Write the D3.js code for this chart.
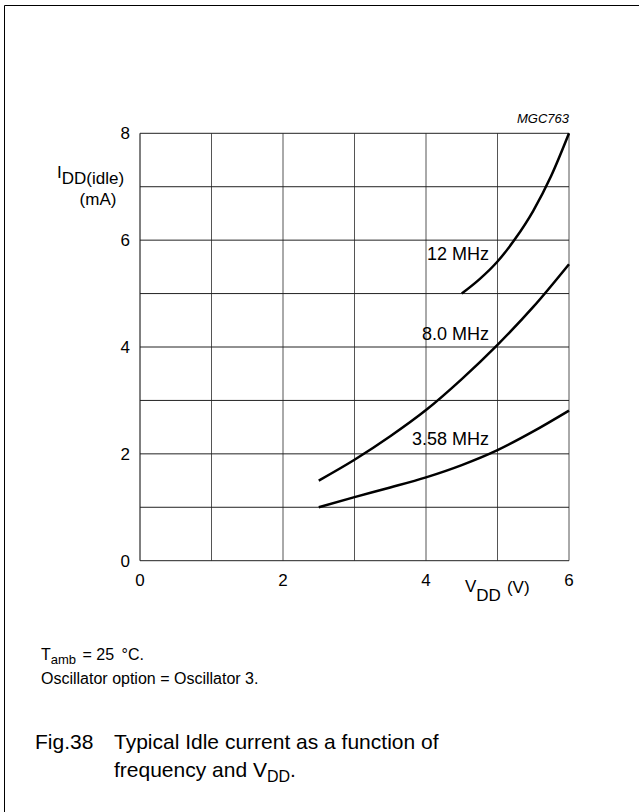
<!DOCTYPE html>
<html>
<head>
<meta charset="utf-8">
<script src="https://cdn.jsdelivr.net/npm/d3@7"></script>
<style>
  body { margin: 0; background: #fff; }
  svg { display: block; font-family: "Liberation Sans", Arial, sans-serif; }
</style>
</head>
<body>
<svg width="639" height="812"></svg>
<script>
// Idle current vs supply voltage, three oscillator frequencies

var vdd = [2.5, 3, 3.5, 4, 4.5, 5, 5.5, 6];
var idd_8 = [1.5, 1.89, 2.33, 2.82, 3.4, 4.04, 4.75, 5.55];
var idd_358 = [1.0, 1.19, 1.37, 1.56, 1.79, 2.07, 2.42, 2.81];
var vdd_12 = [4.5, 4.75, 5, 5.25, 5.5, 5.75, 6];
var idd_12 = [5.0, 5.27, 5.6, 6.03, 6.55, 7.2, 8.0];

var x_ticks = [0, 2, 4, 6];
var y_ticks = [0, 2, 4, 6, 8];

var curve_labels = [
	{text: "12 MHz", v: 4.88, i: 5.63},
	{text: "8.0 MHz", v: 4.88, i: 4.13},
	{text: "3.58 MHz", v: 4.88, i: 2.17}
];

var svg = d3.select("svg");

var x = d3.scaleLinear().domain([0, 6]).range([140, 569]);
var y = d3.scaleLinear().domain([0, 8]).range([560.7, 133.3]);

// outer frame (top and left edges only visible)
svg.append("line").attr("x1", 4.5).attr("y1", 5.5).attr("x2", 639).attr("y2", 5.5)
	.attr("stroke", "#000").attr("stroke-width", 1);
svg.append("line").attr("x1", 4.5).attr("y1", 5.5).attr("x2", 4.5).attr("y2", 812)
	.attr("stroke", "#000").attr("stroke-width", 1);

// grid
var grid = svg.append("g").attr("class", "grid");
grid.selectAll("line.v")
	.data(d3.range(0, 7))
	.enter().append("line")
	.attr("class", "v")
	.attr("x1", d => x(d)).attr("x2", d => x(d))
	.attr("y1", y(0)).attr("y2", y(8))
	.attr("stroke", d => d == 0 ? "#000" : "#555")
	.attr("stroke-width", 1);
grid.selectAll("line.h")
	.data(d3.range(0, 9))
	.enter().append("line")
	.attr("class", "h")
	.attr("x1", x(0)).attr("x2", x(6))
	.attr("y1", d => y(d)).attr("y2", d => y(d))
	.attr("stroke", "#222")
	.attr("stroke-width", 1);

// tick labels
svg.append("g").selectAll("text")
	.data(x_ticks)
	.enter().append("text")
	.attr("x", d => x(d))
	.attr("y", 586)
	.attr("text-anchor", "middle")
	.attr("font-size", 17)
	.text(d => d);

svg.append("g").selectAll("text")
	.data(y_ticks)
	.enter().append("text")
	.attr("x", 130)
	.attr("y", d => y(d) + 6)
	.attr("text-anchor", "end")
	.attr("font-size", 17)
	.text(d => d);

// curves
var line = d3.line()
	.x(d => x(d[0]))
	.y(d => y(d[1]))
	.curve(d3.curveMonotoneX);

var series = [
	d3.zip(vdd_12, idd_12),
	d3.zip(vdd, idd_8),
	d3.zip(vdd, idd_358)
];

svg.append("g").selectAll("path")
	.data(series)
	.enter().append("path")
	.attr("d", line)
	.attr("fill", "none")
	.attr("stroke", "#000")
	.attr("stroke-width", 2.5);

svg.append("g").selectAll("text")
	.data(curve_labels)
	.enter().append("text")
	.attr("x", d => x(d.v))
	.attr("y", d => y(d.i))
	.attr("text-anchor", "end")
	.attr("font-size", 18)
	.text(d => d.text);

// axis titles
var ylab = svg.append("text").attr("x", 57).attr("y", 178).attr("font-size", 17);
ylab.append("tspan").text("I");
ylab.append("tspan").attr("dy", 6).text("DD(idle)");
svg.append("text").attr("x", 98).attr("y", 205).attr("text-anchor", "middle")
	.attr("font-size", 17).text("(mA)");

var xlab = svg.append("text").attr("x", 465).attr("y", 592).attr("font-size", 17);
xlab.append("tspan").text("V");
xlab.append("tspan").attr("dy", 9).text("DD");
xlab.append("tspan").attr("dy", -8).attr("dx", 6).text("(V)");

svg.append("text")
	.attr("x", 569).attr("y", 123)
	.attr("text-anchor", "end")
	.attr("font-size", 13)
	.attr("font-style", "italic")
	.text("MGC763");

// notes
var t1 = svg.append("text").attr("x", 41).attr("y", 660).attr("font-size", 16);
t1.append("tspan").text("T");
t1.append("tspan").attr("dy", 4).attr("font-size", 13).text("amb");
t1.append("tspan").attr("dy", -4).attr("dx", 2).text(" = 25 ");
t1.append("tspan").attr("dx", 3).text("\u00B0C.");

svg.append("text").attr("x", 41).attr("y", 684).attr("font-size", 16)
	.text("Oscillator option = Oscillator 3.");

svg.append("text").attr("x", 35).attr("y", 749).attr("font-size", 21)
	.text("Fig.38");
svg.append("text").attr("x", 114).attr("y", 749).attr("font-size", 21)
	.text("Typical Idle current as a function of");
var f2 = svg.append("text").attr("x", 114).attr("y", 777).attr("font-size", 21);
f2.append("tspan").text("frequency and V");
f2.append("tspan").attr("dy", 5).attr("font-size", 16).text("DD");
f2.append("tspan").attr("dy", -5).text(".");
</script>
</body>
</html>
